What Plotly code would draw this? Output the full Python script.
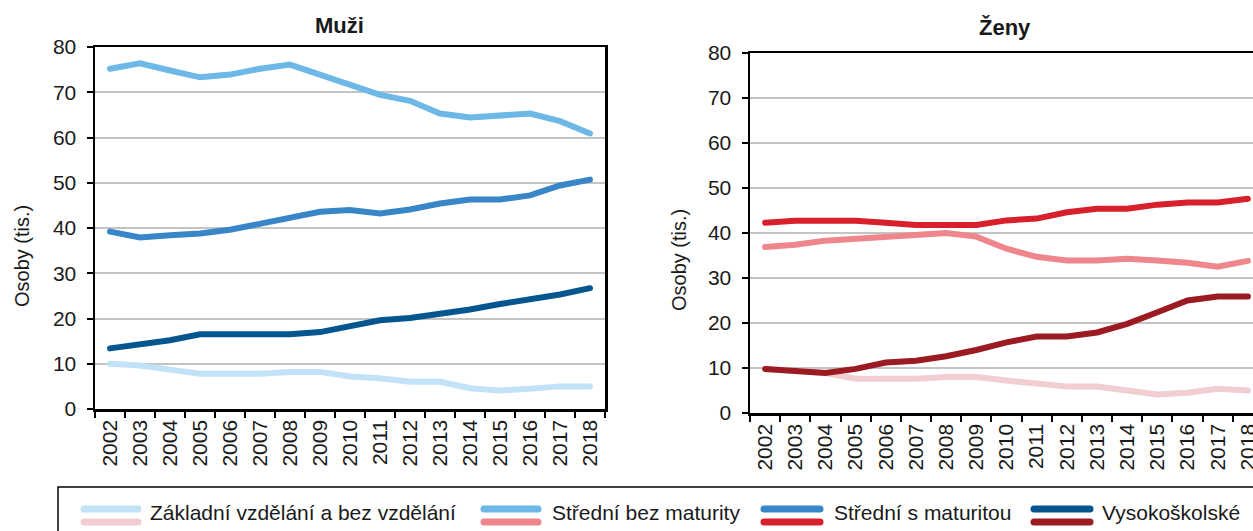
import plotly.graph_objects as go

W, H = 1253, 531

years = [str(y) for y in range(2002, 2019)]
series_names = ["Základní vzdělání a bez vzdělání", "Střední bez maturity",
                "Střední s maturitou", "Vysokoškolské"]

# Muži (tis.)
muzi_zakladni = [10.0, 9.6, 8.7, 7.8, 7.8, 7.8, 8.2, 8.2, 7.2, 6.8, 6.0, 6.0, 4.6, 4.1, 4.5, 5.0, 5.0]
muzi_bez_mat = [75.2, 76.4, 74.8, 73.3, 73.9, 75.2, 76.1, 73.9, 71.7, 69.4, 68.1, 65.3, 64.4, 64.9, 65.3, 63.6, 60.9]
muzi_s_mat = [39.2, 37.9, 38.4, 38.8, 39.6, 40.9, 42.3, 43.6, 44.0, 43.2, 44.1, 45.4, 46.3, 46.3, 47.2, 49.4, 50.7]
muzi_vs = [13.4, 14.3, 15.2, 16.5, 16.5, 16.5, 16.5, 17.0, 18.4, 19.6, 20.1, 21.0, 22.0, 23.2, 24.1, 25.3, 26.7]

# Ženy (tis.)
zeny_zakladni = [9.8, 9.3, 8.9, 7.6, 7.6, 7.6, 8.0, 8.0, 7.2, 6.7, 5.9, 5.9, 5.0, 4.1, 4.5, 5.4, 5.0]
zeny_bez_mat = [36.9, 37.4, 38.3, 38.8, 39.2, 39.7, 40.0, 39.2, 36.5, 34.7, 33.9, 33.9, 34.3, 33.9, 33.4, 32.5, 33.8]
zeny_s_mat = [42.3, 42.7, 42.7, 42.7, 42.3, 41.8, 41.8, 41.8, 42.8, 43.2, 44.6, 45.4, 45.4, 46.3, 46.8, 46.8, 47.6]
zeny_vs = [9.8, 9.3, 8.9, 9.8, 11.2, 11.6, 12.6, 14.0, 15.7, 17.0, 17.0, 17.9, 19.8, 22.4, 25.0, 25.9, 25.9]

blue_colors = ["#C2E2F7", "#6DB8E6", "#3886C8", "#05568F"]
red_colors = ["#F2CDD1", "#EE868C", "#D8202C", "#9C1B22"]

y_ticks = list(range(0, 81, 10))

FONT = "Liberation Sans, Arial, sans-serif"
TXT = "#1a1a1a"


def px(x):
    return x / W


def py(y):
    return 1 - y / H


fig = go.Figure()

men = [muzi_zakladni, muzi_bez_mat, muzi_s_mat, muzi_vs]
women = [zeny_zakladni, zeny_bez_mat, zeny_s_mat, zeny_vs]

for name, vals, col in zip(series_names, men, blue_colors):
    fig.add_trace(go.Scatter(x=years, y=vals, mode="lines", name=name,
                             line=dict(color=col, width=6), xaxis="x", yaxis="y",
                             showlegend=False))
for name, vals, col in zip(series_names, women, red_colors):
    fig.add_trace(go.Scatter(x=years, y=vals, mode="lines", name=name,
                             line=dict(color=col, width=6), xaxis="x2", yaxis="y2",
                             showlegend=False))

common_x = dict(type="category", categoryorder="array", categoryarray=years,
                tickson="boundaries", ticks="outside", ticklen=6, tickwidth=2,
                tickcolor="black", showline=True, linecolor="black", linewidth=2.5,
                tickangle=-90, tickfont=dict(size=21, color=TXT, family=FONT),
                showgrid=False, zeroline=False, automargin=False)
common_y = dict(range=[0, 80], tickvals=y_ticks, ticks="outside", ticklen=6, tickwidth=2,
                tickcolor="black", showline=True, linecolor="black", linewidth=2.5,
                showgrid=True, gridcolor="#C4C4C4", gridwidth=2, zeroline=False,
                tickfont=dict(size=21, color=TXT, family=FONT), ticklabelstandoff=6,
                automargin=False)

fig.update_layout(
    width=W, height=H,
    margin=dict(l=0, r=0, t=0, b=0, pad=0, autoexpand=False),
    paper_bgcolor="white", plot_bgcolor="white",
    font=dict(family=FONT, color=TXT),
    showlegend=False,
    xaxis=dict(domain=[px(95), px(605)], range=[-0.5, 16.5], anchor="y", mirror=True, **common_x),
    yaxis=dict(domain=[py(409), py(47)], anchor="x", mirror=True, **common_y),
    xaxis2=dict(domain=[px(750), 1.0], range=[-0.5, 16.5 - 10 / 30.2], anchor="y2", mirror=True, **common_x),
    yaxis2=dict(domain=[py(413), py(53)], anchor="x2", mirror=False, **common_y),
)

annotations = [
    dict(text="<b>Muži</b>", x=px(339), y=py(26), xref="paper", yref="paper",
         showarrow=False, font=dict(size=22, color=TXT, family=FONT), xanchor="center", yanchor="middle"),
    dict(text="<b>Ženy</b>", x=px(1005), y=py(28), xref="paper", yref="paper",
         showarrow=False, font=dict(size=22, color=TXT, family=FONT), xanchor="center", yanchor="middle"),
    dict(text="Osoby (tis.)", x=px(22), y=py(256), xref="paper", yref="paper", textangle=-90,
         showarrow=False, font=dict(size=20, color=TXT, family=FONT), xanchor="center", yanchor="middle"),
    dict(text="Osoby (tis.)", x=px(679), y=py(260), xref="paper", yref="paper", textangle=-90,
         showarrow=False, font=dict(size=20, color=TXT, family=FONT), xanchor="center", yanchor="middle"),
]

shapes = [
    dict(type="rect", xref="paper", yref="paper", x0=px(58), x1=px(1300), y0=py(487), y1=py(560),
         line=dict(color="black", width=1.5), fillcolor="rgba(0,0,0,0)", layer="above"),
]

legend_samples = [(84, 138, 148), (484, 538, 550), (764, 820, 832), (1034, 1090, 1100)]
for (x0, x1, tx), name, bc, rc in zip(legend_samples, series_names, blue_colors, red_colors):
    shapes.append(dict(type="line", xref="paper", yref="paper", x0=px(x0), x1=px(x1),
                       y0=py(509), y1=py(509), line=dict(color=bc, width=7)))
    shapes.append(dict(type="line", xref="paper", yref="paper", x0=px(x0), x1=px(x1),
                       y0=py(522), y1=py(522), line=dict(color=rc, width=7)))
    annotations.append(dict(text=name, x=px(tx), y=py(512), xref="paper", yref="paper",
                            showarrow=False, xanchor="left", yanchor="middle",
                            font=dict(size=21, color=TXT, family=FONT)))

fig.update_layout(annotations=annotations, shapes=shapes)

post = (
    "document.body.style.margin='0px';document.body.style.overflow='hidden';"
    "document.querySelectorAll('.scatterlayer path.js-line').forEach(function(p){p.style.strokeLinecap='round';});"
    "document.querySelectorAll('.shapelayer path').forEach(function(p){if(p.getAttribute('fill-rule')!=='evenodd'||true){p.style.strokeLinecap='round';}});"
)

fig.write_html("out.html", config={"displayModeBar": False, "staticPlot": True}, post_script=post)
